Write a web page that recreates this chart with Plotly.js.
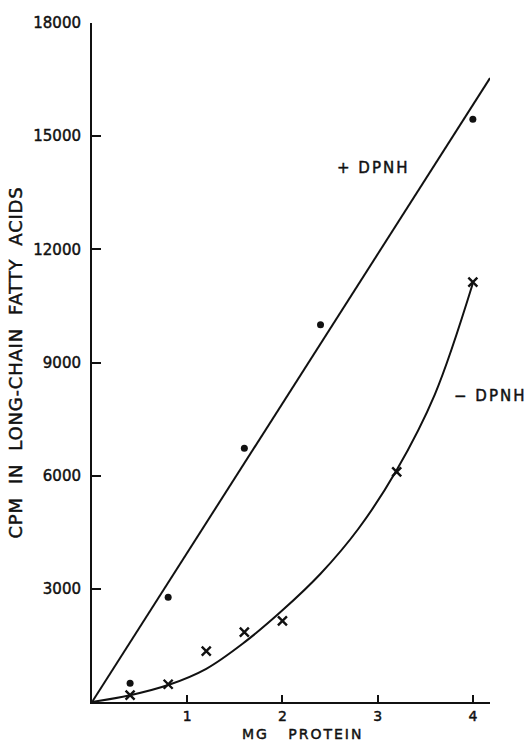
<!DOCTYPE html>
<html><head><meta charset="utf-8">
<script src="https://cdn.plot.ly/plotly-3.0.1.min.js"></script>
<style>
body{margin:0;background:#fff}
#chart{width:525px;height:742px}
#chart text{stroke:#111;stroke-width:0.45px}
.ytitle{letter-spacing:0.8px}
.annotation-text{letter-spacing:2px}
</style></head><body><div id="chart"></div>
<script>
// Measured points: +DPNH (dots) and -DPNH (crosses)
const plusX = [0.4, 0.8, 1.6, 2.4, 4.0];
const plusY = [500, 2780, 6730, 10000, 15450];
const minusX = [0.4, 0.8, 1.2, 1.6, 2.0, 3.2, 4.0];
const minusY = [180, 470, 1350, 1850, 2150, 6100, 11130];
// Drawn fitted lines
const plusLineX = [0, 4.18];
const plusLineY = [0, 16540];
const minusCurveX = [0, 0.4, 0.8, 1.2, 1.6, 2.0, 2.4, 2.8, 3.2, 3.6, 4.0];
const minusCurveY = [0, 180, 450, 880, 1580, 2430, 3400, 4600, 6150, 8150, 11100];
// Ticks
const xTicks = [1, 2, 3, 4];
const xTickText = ['1', '2', '3', '4'];
const yTicks = [3000, 6000, 9000, 12000, 15000, 18000];
const yTickText = ['3000', '6000', '9000', '12000', '15000', '18000'];

const ink = '#111';
const fam = 'DejaVu Sans';
const sp = '\u00A0';
const tickFont = {family: fam, size: 15, color: ink};

const traces = [
  {x: plusLineX, y: plusLineY, mode: 'lines', line: {color: ink, width: 2}, hoverinfo: 'skip'},
  {x: minusCurveX, y: minusCurveY, mode: 'lines', line: {color: ink, width: 2, shape: 'spline', smoothing: 1}, hoverinfo: 'skip'},
  {x: plusX, y: plusY, mode: 'markers', marker: {symbol: 'circle', size: 7, color: ink}},
  {x: minusX, y: minusY, mode: 'markers', marker: {symbol: 'x-thin-open', size: 9, color: ink, line: {color: ink, width: 2.4}}}
];

const layout = {
  width: 525, height: 742,
  margin: {l: 92, r: 35, t: 23, b: 40},
  paper_bgcolor: '#fff', plot_bgcolor: '#fff',
  showlegend: false,
  font: tickFont,
  xaxis: {
    range: [0, 4.18], showgrid: false, zeroline: false,
    showline: true, linecolor: ink, linewidth: 2,
    ticks: 'inside', ticklen: 7, tickwidth: 2, tickcolor: ink,
    tickvals: xTicks, ticktext: xTickText, tickfont: {family: fam, size: 14, color: ink}, ticklabelstandoff: 0
  },
  yaxis: {
    range: [0, 18000], showgrid: false, zeroline: false,
    showline: true, linecolor: ink, linewidth: 2,
    ticks: 'inside', ticklen: 9, tickwidth: 2, tickcolor: ink,
    tickvals: yTicks, ticktext: yTickText, tickfont: tickFont, ticklabelstandoff: 6,
    title: {text: 'CPM' + sp + ' IN' + sp + ' LONG-CHAIN' + sp + ' FATTY' + sp + ' ACIDS', font: {family: fam, size: 18, color: ink}, standoff: 6}
  },
  annotations: [
    {x: 0.528, y: -0.0465, xref: 'paper', yref: 'paper', text: 'MG' + sp + sp + ' PROTEIN', showarrow: false, xanchor: 'center', yanchor: 'middle', borderpad: 0, font: {family: fam, size: 14, color: ink}},
    {x: 2.55, y: 14150, xref: 'x', yref: 'y', text: '+ DPNH', showarrow: false, xanchor: 'left', yanchor: 'middle', font: {family: fam, size: 15, color: ink}},
    {x: 3.78, y: 8110, xref: 'x', yref: 'y', text: '− DPNH', showarrow: false, xanchor: 'left', yanchor: 'middle', font: {family: fam, size: 15, color: ink}}
  ]
};

Plotly.newPlot('chart', traces, layout, {staticPlot: true, displayModeBar: false});
</script></body></html>
